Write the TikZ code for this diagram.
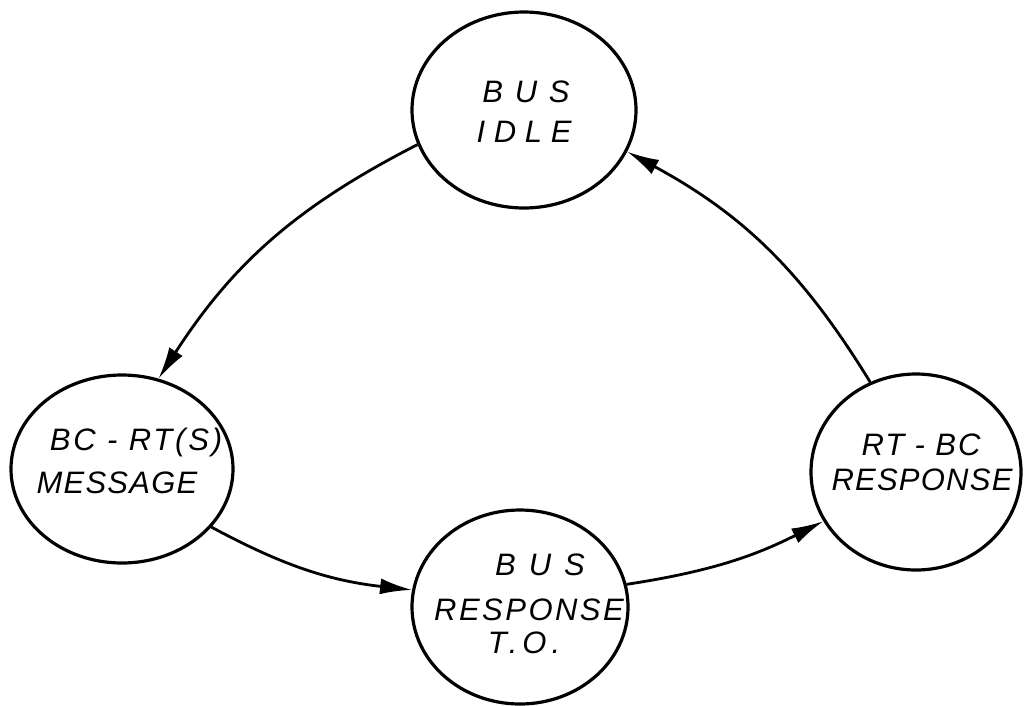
\documentclass[tikz,border=0pt]{standalone}
\usepackage{fontspec}
\setmainfont{Liberation Sans}
\usetikzlibrary{shapes.geometric,arrows.meta}
\newcommand\lsp[2]{{\addfontfeature{LetterSpace=#1}#2}}
\begin{document}
\begin{tikzpicture}[x=1pt,y=-1pt,
  state/.style={ellipse,draw=black,line width=3.2pt,inner sep=0pt},
  lbl/.style={font=\fontsize{31}{31}\selectfont\itshape,inner sep=0pt,anchor=base},
  flow/.style={line width=2.8pt,-{Latex[length=32pt,width=16pt]}}]
\useasboundingbox (0,0) rectangle (1025,705);
% states
\node[state,minimum width=224pt,minimum height=196pt] (idle) at (524,110) {};
\node[state,minimum width=222pt,minimum height=188pt] (msg)  at (122,469) {};
\node[state,minimum width=216pt,minimum height=194pt] (resp) at (520,607) {};
\node[state,minimum width=210pt,minimum height=196pt] (rtbc) at (916,472) {};
% labels
\node[lbl] (t1) at (526,102) {\lsp{38}{BUS}};
\node[lbl] (t2) at (524,142) {\lsp{28}{IDLE}};
\node[lbl] (t3) at (136,450) {\lsp{9}{BC - RT(S)}};
\node[lbl] (t4) at (117,493) {\lsp{4}{MESSAGE}};
\node[lbl] (t5) at (540,575) {\lsp{42}{BUS}};
\node[lbl] (t6) at (529,620) {\lsp{8}{RESPONSE}};
\node[lbl] (t7) at (524,653) {\lsp{16}{T.O.}};
\node[lbl] (t8) at (921,455) {\lsp{6}{RT - BC}};
\node[lbl] (t9) at (922,490) {\lsp{4}{RESPONSE}};
% transitions
\draw[flow] (idle.198) to[bend right=15] (msg.68);
\draw[flow] (msg.327) to[bend right=11] (resp.171);
\draw[flow] (resp.12) to[bend right=9] (rtbc.208);
\draw[flow] (rtbc.117) to[bend right=15] (idle.338);
\end{tikzpicture}
\end{document}
